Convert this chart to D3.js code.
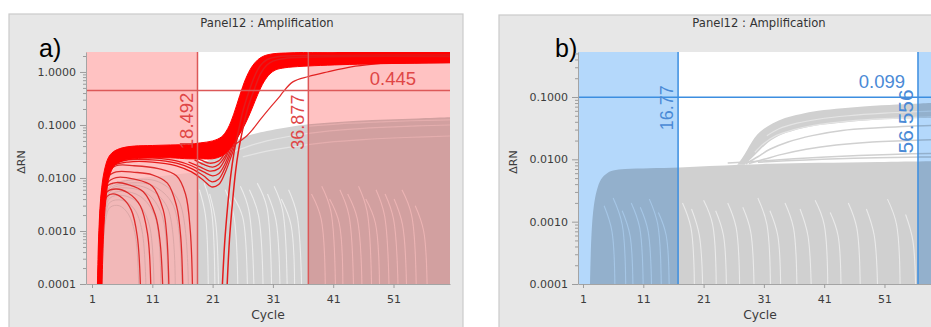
<!DOCTYPE html>
<html>
<head>
<meta charset="utf-8">
<script src="https://cdn.jsdelivr.net/npm/d3@7"></script>
<style>
body { margin: 0; background: #fff; }
svg { display: block; }
</style>
</head>
<body>
<script>
// ---- data ----
var xTicks = [1, 11, 21, 31, 41, 51];
var yTicksA = [0.0001, 0.001, 0.01, 0.1, 1];
var yTicksB = [0.0001, 0.001, 0.01, 0.1];
var baselineA = [18.492, 36.877];
var thresholdA = 0.445;
var baselineB = [16.77, 56.556];
var thresholdB = 0.099;
var floorV = 5e-5;

// panel a) gray (non amplified) wells
var grayFaintAreaA = [[2.5, 5e-5], [3, 0.0015], [3.6, 0.004], [4.5, 0.007], [6, 0.009], [9, 0.01], [13, 0.011], [16, 0.012], [18.49, 0.013]];
var grayDenseA = [[18.49, 0.02], [20, 0.021], [21, 0.023], [22, 0.027], [23, 0.034], [24, 0.043], [25, 0.051], [26, 0.058], [28, 0.068], [30, 0.077], [33, 0.089], [36, 0.1], [40, 0.11], [45, 0.12], [50, 0.127], [55, 0.133], [60.6, 0.14]];
var grayFaintLinesA = [
  [[2.6, 5e-5], [3.2, 0.0015], [4, 0.0028], [5.5, 0.003], [7, 0.0021], [8.2, 0.0008], [8.8, 5e-5]],
  [[2.6, 5e-5], [3.2, 0.0018], [4, 0.0035], [6, 0.0038], [8, 0.0026], [9.3, 0.001], [10, 5e-5]],
  [[2.5, 5e-5], [3.1, 0.002], [4, 0.0042], [6, 0.0047], [8.5, 0.0035], [10.5, 0.0013], [11.3, 5e-5]],
  [[2.5, 5e-5], [3.1, 0.0022], [4, 0.0048], [6, 0.0056], [9, 0.0045], [11.5, 0.0018], [12.4, 5e-5]],
  [[2.5, 5e-5], [3.1, 0.0025], [4, 0.0055], [6, 0.0065], [10, 0.0052], [12.6, 0.002], [13.6, 5e-5]],
  [[2.4, 5e-5], [3, 0.0026], [4, 0.006], [6, 0.0072], [10, 0.0065], [13.5, 0.0028], [14.8, 5e-5]],
  [[2.4, 5e-5], [3, 0.0028], [4, 0.0065], [7, 0.008], [11, 0.0072], [14.5, 0.003], [15.9, 5e-5]],
  [[2.4, 5e-5], [3, 0.003], [4, 0.007], [7, 0.009], [12, 0.0085], [15.5, 0.0035], [17, 5e-5]]
];
var grayTopLinesA = [
  [[24, 0.03], [27, 0.04], [30, 0.05], [34, 0.062], [38, 0.072], [43, 0.082], [49, 0.09], [55, 0.096], [60.6, 0.1]],
  [[26, 0.025], [30, 0.032], [35, 0.04], [40, 0.047], [46, 0.053], [53, 0.058], [60.6, 0.062]],
  [[37, 0.095], [42, 0.105], [48, 0.113], [54, 0.12], [60.6, 0.125]]
];
var streaksA = [
  [[18.8, 0.006], [19.8, 0.002], [20.3, 5e-5]],
  [[19.6, 0.008], [20.8, 0.0025], [21.4, 5e-5]],
  [[20.5, 0.005], [21.5, 0.0015], [22, 5e-5]],
  [[23.1, 0.006], [24.5, 0.002], [25.2, 5e-5]],
  [[24.4, 0.0045], [26, 0.0018], [26.8, 5e-5]],
  [[25.6, 0.007], [27, 0.0025], [27.9, 5e-5]],
  [[27.1, 0.006], [28.6, 0.002], [29.4, 5e-5]],
  [[28.4, 0.008], [30, 0.0028], [30.8, 5e-5]],
  [[30.1, 0.005], [31.5, 0.0016], [32.2, 5e-5]],
  [[31.2, 0.007], [32.6, 0.0025], [33.4, 5e-5]],
  [[32.4, 0.004], [34, 0.0013], [34.6, 5e-5]],
  [[33.6, 0.006], [35, 0.002], [35.8, 5e-5]],
  [[37.4, 0.005], [39, 0.0017], [39.7, 5e-5]],
  [[39.1, 0.007], [40.6, 0.0024], [41.4, 5e-5]],
  [[40.4, 0.004], [42, 0.0014], [42.6, 5e-5]],
  [[42.1, 0.006], [43.6, 0.002], [44.4, 5e-5]],
  [[43.4, 0.005], [45, 0.0017], [45.8, 5e-5]],
  [[45.2, 0.007], [46.6, 0.0024], [47.4, 5e-5]],
  [[46.4, 0.004], [48, 0.0014], [48.7, 5e-5]],
  [[48.1, 0.006], [49.5, 0.002], [50.3, 5e-5]],
  [[49.6, 0.005], [51, 0.0017], [51.8, 5e-5]],
  [[51.1, 0.004], [52.5, 0.0013], [53.2, 5e-5]],
  [[52.4, 0.006], [54, 0.002], [54.8, 5e-5]],
  [[54.6, 0.003], [56, 0.001], [56.6, 5e-5]]
];

// panel a) red (amplified) wells
var redBandUpper = [[1.85, 5e-5], [2.1, 0.0008], [2.5, 0.005], [3, 0.013], [3.7, 0.024], [4.5, 0.031], [6, 0.037], [8, 0.04], [11, 0.041], [14, 0.042], [17, 0.043], [19, 0.046], [21, 0.05], [22.5, 0.06], [23.5, 0.085], [24.5, 0.16], [25.5, 0.36], [26.5, 0.75], [27.5, 1.25], [28.5, 1.7], [29.5, 2.0], [31, 2.2], [34, 2.3], [40, 2.36], [50, 2.4], [60.6, 2.42]];
var redBandLower = [[2.6, 5e-5], [2.9, 0.0008], [3.3, 0.004], [3.9, 0.011], [4.7, 0.017], [6, 0.021], [8, 0.023], [11, 0.024], [14, 0.024], [17, 0.023], [19, 0.023], [21, 0.023], [22.5, 0.026], [23.5, 0.032], [24.5, 0.045], [25.5, 0.068], [26.5, 0.11], [27.5, 0.2], [28.5, 0.38], [29.5, 0.65], [30.5, 0.92], [31.5, 1.1], [33, 1.2], [36, 1.28], [45, 1.4], [60.6, 1.5]];
var redDropCurves = [
  [[2.2, 5e-5], [2.8, 0.002], [3.5, 0.0045], [4.5, 0.005], [6, 0.0042], [7.5, 0.0025], [8.5, 0.0008], [9.1, 5e-5]],
  [[2.2, 5e-5], [2.8, 0.0025], [3.5, 0.0055], [5, 0.0062], [7, 0.0052], [9, 0.003], [10.2, 0.0009], [10.8, 5e-5]],
  [[2.1, 5e-5], [2.8, 0.003], [3.5, 0.007], [5, 0.0082], [7, 0.0075], [9.5, 0.0055], [11.5, 0.002], [12.3, 0.0006], [12.8, 5e-5]],
  [[2.1, 5e-5], [2.8, 0.004], [3.5, 0.008], [5, 0.0102], [8, 0.0095], [11, 0.007], [12.8, 0.0025], [13.4, 0.0008], [13.8, 5e-5]],
  [[2.1, 5e-5], [2.7, 0.004], [3.5, 0.01], [5, 0.013], [8, 0.0128], [11, 0.0115], [13.5, 0.008], [15, 0.003], [15.7, 0.0008], [16.1, 5e-5]],
  [[2.0, 5e-5], [2.7, 0.005], [3.5, 0.012], [5, 0.017], [8, 0.017], [12, 0.015], [15, 0.011], [16.5, 0.005], [17.3, 0.001], [17.7, 5e-5]]
];
var redJoinCurves = [
  [[2, 5e-5], [2.6, 0.004], [3.3, 0.011], [4.5, 0.017], [7, 0.02], [11, 0.02], [15, 0.017], [17.5, 0.013], [19.5, 0.009], [20.8, 0.0068], [22, 0.0075], [23, 0.012], [24, 0.024], [25, 0.052], [26, 0.12], [27, 0.27], [28, 0.58], [29, 0.95], [30, 1.2], [32, 1.35], [36, 1.4], [60.6, 1.5]],
  [[2, 5e-5], [2.6, 0.0045], [3.3, 0.012], [4.5, 0.018], [7, 0.022], [11, 0.022], [15, 0.019], [17.5, 0.015], [19.5, 0.011], [20.8, 0.0085], [22, 0.0095], [23, 0.015], [24, 0.029], [25, 0.06], [26, 0.13], [27, 0.3], [28, 0.62], [29, 1.0], [30, 1.25], [32, 1.4], [60.6, 1.52]],
  [[2, 5e-5], [2.6, 0.005], [3.3, 0.013], [4.5, 0.02], [7, 0.024], [11, 0.024], [15, 0.021], [17.5, 0.017], [19.5, 0.013], [21, 0.011], [22, 0.012], [23, 0.018], [24, 0.034], [25, 0.07], [26, 0.15], [27, 0.33], [28, 0.68], [29, 1.05], [30, 1.3], [32, 1.42], [60.6, 1.55]],
  [[17, 0.02], [19, 0.016], [20.5, 0.0135], [22, 0.015], [23, 0.022], [24, 0.04], [25, 0.08], [26, 0.17], [27, 0.36], [28, 0.72], [29, 1.1], [30, 1.35], [33, 1.48], [60.6, 1.58]],
  [[18, 0.022], [19.5, 0.018], [21, 0.016], [22, 0.018], [23, 0.025], [24, 0.045], [25, 0.09], [26, 0.19], [27, 0.4], [28, 0.8], [29, 1.2], [30, 1.4], [33, 1.5], [60.6, 1.6]],
  [[17, 0.026], [19, 0.022], [20.5, 0.019], [22, 0.021], [23, 0.029], [24, 0.05], [25, 0.1], [26, 0.21], [27, 0.45], [28, 0.85], [29, 1.25], [30, 1.5], [33, 1.6], [60.6, 1.65]]
];
var redLateCurves = [
  [[22.5, 5e-5], [23, 0.0006], [23.5, 0.003], [24, 0.011], [24.5, 0.028], [25, 0.055], [25.5, 0.1], [26, 0.18], [27, 0.42], [28, 0.85], [29, 1.35], [30, 1.7], [32, 1.95], [40, 2.05], [60.6, 2.1]],
  [[23.3, 5e-5], [23.8, 0.0007], [24.3, 0.0035], [24.8, 0.013], [25.3, 0.033], [25.8, 0.065], [26.3, 0.12], [27, 0.24], [28, 0.5], [29, 0.95], [30, 1.35], [31, 1.6], [33, 1.8], [60.6, 1.95]]
];
var redSlowCurve = [[2.2, 5e-5], [2.8, 0.003], [3.5, 0.01], [4.5, 0.018], [7, 0.024], [11, 0.026], [15, 0.025], [18, 0.024], [21, 0.026], [23, 0.032], [25, 0.045], [26.5, 0.06], [27.7, 0.084], [29, 0.13], [30.5, 0.21], [32, 0.33], [32.7, 0.42], [34.3, 0.65], [36.9, 0.82], [40, 1.0], [44, 1.25], [48, 1.42], [52, 1.55], [57.5, 1.68], [60.6, 1.72]];

// panel b) gray wells
var grayDenseB = [[2.1, 5e-5], [2.4, 0.0006], [2.8, 0.0018], [3.3, 0.0032], [4, 0.0048], [5, 0.006], [6, 0.0066], [8, 0.007], [12, 0.0072], [17, 0.0074], [22, 0.0078], [27, 0.0082], [32, 0.0085], [40, 0.0088], [50, 0.0091], [60.6, 0.0094]];
var grayArcUpperB = [[26.6, 0.0082], [27.4, 0.0105], [28.2, 0.014], [29, 0.019], [29.9, 0.025], [31, 0.031], [32.5, 0.038], [34.5, 0.046], [37, 0.053], [40, 0.06], [44, 0.066], [48, 0.071], [53, 0.076], [57, 0.079], [60.6, 0.081]];
var grayArcLowerB = [[27.8, 0.0082], [29, 0.0105], [30.3, 0.014], [31.8, 0.019], [33.5, 0.024], [36, 0.029], [39, 0.034], [43, 0.038], [48, 0.042], [54, 0.045], [60.6, 0.047]];
var grayArcGapsB = [
  [[29.5, 0.013], [31, 0.018], [33, 0.024], [36, 0.03], [40, 0.036], [45, 0.041], [51, 0.045], [56, 0.047], [60.6, 0.049]],
  [[31.5, 0.024], [33.5, 0.031], [36.5, 0.038], [40, 0.044], [45, 0.05], [51, 0.055], [56, 0.058], [60.6, 0.06]]
];
var grayLinesB = [
  [[28, 0.0085], [30, 0.011], [32, 0.0145], [35, 0.019], [39, 0.024], [44, 0.029], [50, 0.032], [55, 0.034], [60.6, 0.035]],
  [[28.5, 0.0086], [31, 0.01], [34, 0.012], [38, 0.0145], [43, 0.017], [49, 0.019], [55, 0.02], [60.6, 0.021]],
  [[25, 0.0087], [30, 0.0093], [36, 0.0102], [44, 0.0112], [52, 0.012], [60.6, 0.0125]],
  [[30, 0.009], [38, 0.0098], [46, 0.0104], [55, 0.0108], [60.6, 0.011]]
];
var streaksB = [
  [[4.5, 0.0018], [5.8, 0.0007], [6.3, 5e-5]],
  [[6, 0.0024], [7.5, 0.0009], [8.1, 5e-5]],
  [[7.5, 0.0015], [8.8, 0.0006], [9.3, 5e-5]],
  [[9, 0.002], [10.4, 0.0008], [11, 5e-5]],
  [[10.5, 0.0017], [11.8, 0.0007], [12.4, 5e-5]],
  [[12, 0.0023], [13.4, 0.0009], [14, 5e-5]],
  [[13.5, 0.0014], [14.8, 0.0006], [15.3, 5e-5]],
  [[17.5, 0.002], [18.9, 0.0008], [19.5, 5e-5]],
  [[19, 0.0016], [20.3, 0.0006], [20.9, 5e-5]],
  [[21, 0.0022], [22.5, 0.0009], [23.1, 5e-5]],
  [[23, 0.0015], [24.3, 0.0006], [24.8, 5e-5]],
  [[25, 0.002], [26.4, 0.0008], [27, 5e-5]],
  [[27.5, 0.0017], [28.8, 0.0007], [29.4, 5e-5]],
  [[30, 0.0024], [31.5, 0.0009], [32.1, 5e-5]],
  [[32, 0.0015], [33.3, 0.0006], [33.8, 5e-5]],
  [[34.5, 0.002], [35.9, 0.0008], [36.5, 5e-5]],
  [[37, 0.0016], [38.3, 0.0006], [38.9, 5e-5]],
  [[39.5, 0.0022], [41, 0.0009], [41.6, 5e-5]],
  [[42, 0.0014], [43.3, 0.0006], [43.8, 5e-5]],
  [[45, 0.002], [46.4, 0.0008], [47, 5e-5]],
  [[48, 0.0016], [49.3, 0.0006], [49.9, 5e-5]],
  [[51.5, 0.0023], [53, 0.0009], [53.6, 5e-5]],
  [[54.5, 0.0013], [55.7, 0.0005], [56.2, 5e-5]]
];

var svg = d3.select("body").append("svg").attr("width", 931).attr("height", 327)
  .style("font-family", "'DejaVu Sans', sans-serif");
var defs = svg.append("defs");
var sans = "'Liberation Sans', Arial, sans-serif";

function floorOf(arr) {
  return [[arr[0][0], floorV], [arr[arr.length - 1][0], floorV]];
}

function drawPanel(cfg) {
  var P = cfg.plot;
  var g = svg.append("g");
  var x = d3.scaleLinear().domain(cfg.xDomain).range([P.x, P.x + P.w]);
  var y = d3.scaleLog().domain(cfg.yDomain).range([P.y + P.h, P.y]);
  var line = d3.line().x(function (d) { return x(d[0]); }).y(function (d) { return y(d[1]); })
    .curve(d3.curveCatmullRom.alpha(0.5));
  function band(upper, lower) {
    return line(upper) + line(lower.slice().reverse()).replace(/^M/, "L") + "Z";
  }

  // gray frame + title
  g.append("rect").attr("x", cfg.frame.x).attr("y", cfg.frame.y).attr("width", cfg.frame.w).attr("height", 340)
    .attr("fill", "#e7e7e7").attr("stroke", "#cbcbcb").attr("stroke-width", 1.2);
  g.append("text").attr("x", P.x + P.w / 2 - 1).attr("y", 27).attr("text-anchor", "middle")
    .attr("font-size", "11.6px").attr("fill", "#333").text("Panel12 : Amplification");
  g.append("text").attr("x", cfg.labelX).attr("y", 57).style("font-family", sans)
    .attr("font-size", "25px").attr("fill", "#000").text(cfg.label);

  defs.append("clipPath").attr("id", "clip" + cfg.id).append("rect")
    .attr("x", P.x).attr("y", P.y).attr("width", P.w).attr("height", P.h);
  var plot = g.append("g").attr("clip-path", "url(#clip" + cfg.id + ")");
  plot.append("rect").attr("x", P.x).attr("y", P.y).attr("width", P.w).attr("height", P.h).attr("fill", "#fff");

  cfg.layers.forEach(function (L) {
    if (L.type === "area") {
      plot.append("path").attr("d", band(L.upper, L.lower || floorOf(L.upper)))
        .attr("fill", L.fill).attr("stroke", L.stroke || "none").attr("stroke-width", L.width || 0);
    } else {
      plot.append("g").selectAll("path").data(L.data).join("path")
        .attr("d", line).attr("fill", "none").attr("stroke", L.stroke)
        .attr("stroke-width", L.width).attr("opacity", L.opacity || 1);
    }
  });

  // baseline regions
  plot.append("rect").attr("x", P.x).attr("y", P.y).attr("width", x(cfg.baseline[0]) - P.x).attr("height", P.h)
    .attr("fill", cfg.overlay).style("mix-blend-mode", "multiply");
  plot.append("rect").attr("x", x(cfg.baseline[1])).attr("y", P.y).attr("width", P.x + P.w - x(cfg.baseline[1]))
    .attr("height", P.h).attr("fill", cfg.overlay).style("mix-blend-mode", "multiply");

  // threshold lines
  cfg.baseline.forEach(function (b) {
    plot.append("line").attr("x1", x(b)).attr("x2", x(b)).attr("y1", P.y).attr("y2", P.y + P.h)
      .attr("stroke", cfg.lineColor).attr("stroke-width", 1.5);
  });
  plot.append("line").attr("x1", P.x).attr("x2", P.x + P.w).attr("y1", y(cfg.threshold)).attr("y2", y(cfg.threshold))
    .attr("stroke", cfg.lineColor).attr("stroke-width", 1.5);

  cfg.baseline.forEach(function (b, i) {
    var o = cfg.vLabels[i];
    g.append("text").attr("transform", "translate(" + (x(b) + o.dx) + "," + (y(cfg.threshold) + o.dy) + ") rotate(-90)")
      .attr("text-anchor", "end").style("font-family", sans)
      .attr("font-size", o.size + "px").attr("fill", cfg.textColor).text(String(b));
  });
  g.append("text").attr("x", P.x + cfg.hLabel.xOff).attr("y", y(cfg.threshold) + cfg.hLabel.dy)
    .attr("text-anchor", "end").style("font-family", sans)
    .attr("font-size", cfg.hLabel.size + "px").attr("fill", cfg.textColor).text(String(cfg.threshold));

  // axes
  var fmt = d3.format(".4f");
  var minor = y.ticks().filter(function (t) { return cfg.yTicks.indexOf(t) < 0; });
  var gm = g.append("g").attr("transform", "translate(" + P.x + ",0)")
    .call(d3.axisLeft(y).tickValues(minor).tickSize(3).tickFormat(""));
  gm.select(".domain").remove();
  var gy = g.append("g").attr("transform", "translate(" + P.x + ",0)")
    .call(d3.axisLeft(y).tickValues(cfg.yTicks).tickFormat(fmt).tickSize(6).tickPadding(4).tickSizeOuter(0));
  var gx = g.append("g").attr("transform", "translate(0," + (P.y + P.h) + ")")
    .call(d3.axisBottom(x).tickValues(xTicks).tickSize(4).tickPadding(7).tickSizeOuter(0));
  [gm, gy, gx].forEach(function (a) {
    a.attr("font-family", null);
    a.selectAll("line").attr("stroke", "#9c9c9c");
    a.selectAll(".domain").attr("stroke", "#a4a4a4");
    a.selectAll("text").attr("fill", "#3c3c3c").attr("font-size", "11px");
  });

  g.append("text").attr("x", P.x + P.w / 2).attr("y", 319).attr("text-anchor", "middle")
    .attr("font-size", "12.3px").attr("fill", "#3c3c3c").text("Cycle");
  g.append("text").attr("transform", "translate(" + (P.x - 61) + "," + (P.y + P.h / 2 - 6) + ") rotate(-90)")
    .attr("text-anchor", "middle").attr("font-size", "11px").attr("fill", "#3c3c3c").text("\u0394RN");
}

drawPanel({
  id: "a", label: "a)", labelX: 39,
  frame: { x: 9, y: 14, w: 454 },
  plot: { x: 86, y: 52, w: 364, h: 232 },
  xDomain: [0, 60.37], yDomain: [1e-4, 2.38], yTicks: yTicksA,
  baseline: baselineA, threshold: thresholdA,
  overlay: "#ffc2c2", lineColor: "#dc5858", textColor: "#e04646",
  vLabels: [{ dx: -4, dy: 2, size: 18.5 }, { dx: -4, dy: 4, size: 18 }],
  hLabel: { xOff: 330, dy: -6, size: 18.5 },
  layers: [
    { type: "area", upper: grayFaintAreaA, fill: "#f2f2f2" },
    { type: "lines", data: grayFaintLinesA, stroke: "#dcdcdc", width: 1 },
    { type: "area", upper: grayDenseA, fill: "#d2d2d2" },
    { type: "lines", data: grayTopLinesA, stroke: "#e4e4e4", width: 1.2 },
    { type: "lines", data: streaksA, stroke: "#f3f3f3", width: 1.1, opacity: 0.8 },
    { type: "lines", data: redDropCurves, stroke: "#dd3a3a", width: 1.3 },
    { type: "lines", data: [redSlowCurve], stroke: "#e22a2a", width: 1.2 },
    { type: "lines", data: redJoinCurves, stroke: "#e62020", width: 1.3 },
    { type: "area", upper: redBandUpper, lower: redBandLower, fill: "#ff0000", stroke: "#ff0000", width: 1 },
    { type: "lines", data: redLateCurves, stroke: "#e41c1c", width: 1.5 }
  ]
});

drawPanel({
  id: "b", label: "b)", labelX: 555,
  frame: { x: 499, y: 15, w: 440 },
  plot: { x: 578, y: 52, w: 364, h: 232 },
  xDomain: [0.17, 60.54], yDomain: [1e-4, 0.527], yTicks: yTicksB,
  baseline: baselineB, threshold: thresholdB,
  overlay: "#b4d8fb", lineColor: "#3c8ee0", textColor: "#4a8ad6",
  vLabels: [{ dx: -5, dy: -12, size: 18 }, { dx: -5, dy: -8, size: 21 }],
  hLabel: { xOff: 327, dy: -9, size: 18.5 },
  layers: [
    { type: "area", upper: grayDenseB, fill: "#d0d0d0" },
    { type: "lines", data: grayLinesB, stroke: "#d0d0d0", width: 1.5 },
    { type: "area", upper: grayArcUpperB, lower: grayArcLowerB, fill: "#d0d0d0" },
    { type: "lines", data: grayArcGapsB, stroke: "#e4e4e4", width: 1.2 },
    { type: "lines", data: streaksB, stroke: "#eeeeee", width: 1.1, opacity: 0.85 }
  ]
});
</script>
</body>
</html>
